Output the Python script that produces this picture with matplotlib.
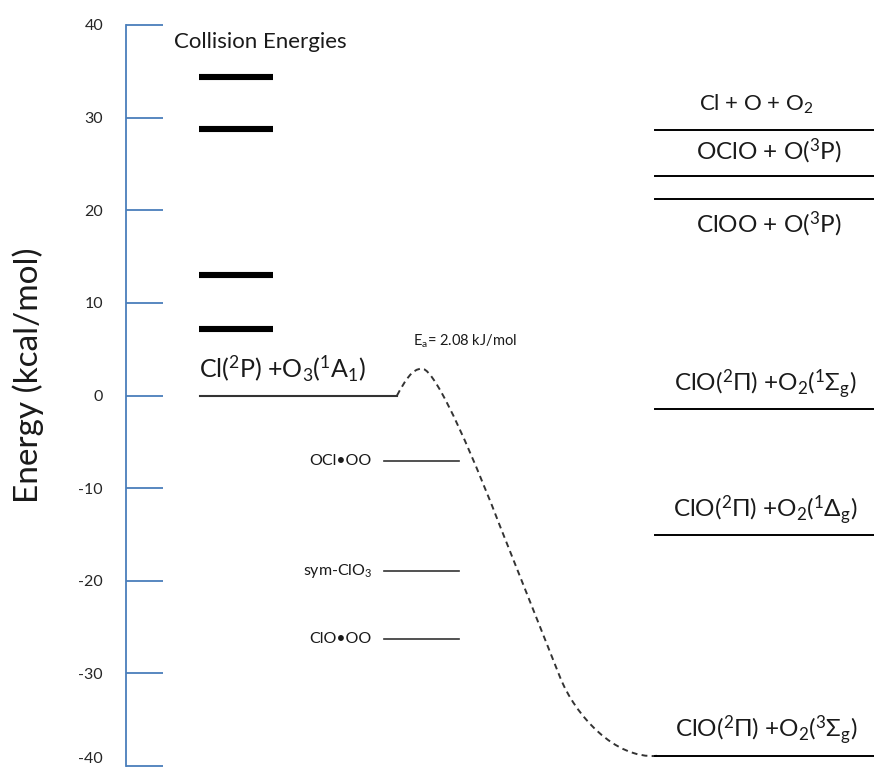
import matplotlib
matplotlib.use("Agg")
import matplotlib.pyplot as plt
from matplotlib.path import Path
from matplotlib.patches import PathPatch

plt.rcParams['font.family'] = ['Lato', 'DejaVu Sans']
plt.rcParams['mathtext.default'] = 'regular'
plt.rcParams['axes.unicode_minus'] = False

# =========================
# Data (kcal/mol)
# =========================

collision_energies = [34.4, 28.8, 13.0, 7.2]

reactant_label = "Cl($^2$P) +O$_3$($^1$A$_1$)"
reactant_energy = 0.0

intermediate_labels = ["OCl•OO", "sym-ClO$_3$", "ClO•OO"]
intermediate_energies = [-7.1, -18.9, -26.3]

product_labels = [
    "Cl + O + O$_2$",
    "OClO + O($^3$P)",
    "ClOO + O($^3$P)",
    "ClO($^2$Π) +O$_2$($^1$Σ$_g$)",
    "ClO($^2$Π) +O$_2$($^1$Δ$_g$)",
    "ClO($^2$Π) +O$_2$($^3$Σ$_g$)",
]
product_energies = [28.7, 23.7, 21.2, -1.5, -15.1, -38.9]
product_label_side = [1, 1, -1, 1, 1, 1]
product_label_x = [756, 769, 769, 765, 765, 766]
product_label_size = [16, 17.5, 17.5, 17.5, 17.5, 17.5]

# reaction path sketch: reaction coordinate and energy of bezier nodes
path_x = [397, 405, 412, 422, 437, 480, 500, 560, 575, 615, 657]
path_e = [0.0, 1.6, 2.9, 2.9, 2.9, -8.5, -14.1, -30.4, -34.5, -39.3, -38.9]
path_codes = [Path.MOVETO, Path.CURVE4, Path.CURVE4, Path.CURVE4,
              Path.CURVE4, Path.CURVE4, Path.CURVE4, Path.LINETO,
              Path.CURVE4, Path.CURVE4, Path.CURVE4]

barrier_label = "E$_a$= 2.08 kJ/mol"

yticks = [40, 30, 20, 10, 0, -10, -20, -30, -40]

# =========================
# Figure
# =========================

fig = plt.figure(figsize=(8.74, 7.68), dpi=100)
ax = fig.add_axes([126 / 874, 2 / 768, 748 / 874, 741 / 768])
ax.set_xlim(126, 874)
ax.set_ylim(-40, 40)

blue = '#4A7EBB'
for side in ['top', 'right', 'bottom']:
    ax.spines[side].set_visible(False)
ax.spines['left'].set_color(blue)
ax.spines['left'].set_linewidth(1.3)
ax.set_xticks([])
ax.set_yticks(yticks)
ax.tick_params(axis='y', direction='in', length=26.6, width=1.3,
               color=blue, pad=16.5, labelsize=11.5, labelcolor='#262626')
# keep the lowest label inside the picture
ax.get_yticklabels()[-1].set_va('bottom')

fig.text(28 / 874, 1 - 375 / 768, "Energy (kcal/mol)", rotation=90,
         ha='center', va='center', fontsize=24, color='#1a1a1a')

# =========================
# Collision energies
# =========================

for e in collision_energies:
    ax.plot([199, 273], [e, e], color='black', lw=4.4,
            solid_capstyle='butt')
ax.text(260, 38.2, "Collision Energies", ha='center', va='center',
        fontsize=16, color='#1a1a1a')

# =========================
# Reactants and intermediates
# =========================

ax.plot([200, 397], [reactant_energy] * 2, color='#333333', lw=1.5)
ax.annotate(reactant_label, (283, reactant_energy), xytext=(0, 19),
            textcoords='offset points', ha='center', va='center',
            fontsize=18, color='#1a1a1a')

for lab, e in zip(intermediate_labels, intermediate_energies):
    ax.plot([384, 459], [e, e], color='#333333', lw=1.2)
    ax.text(372, e, lab, ha='right', va='center', fontsize=11.5,
            color='#1a1a1a')

# =========================
# Products
# =========================

for lab, e, s, lx, fs in zip(product_labels, product_energies,
                             product_label_side, product_label_x,
                             product_label_size):
    ax.plot([655, 874], [e, e], color='black', lw=1.4, clip_on=False)
    ax.annotate(lab, (lx, e), xytext=(0, 18 * s),
                textcoords='offset points', ha='center', va='center',
                fontsize=fs, color='#1a1a1a')

# =========================
# Reaction path
# =========================

path = Path(list(zip(path_x, path_e)), path_codes)
ax.add_patch(PathPatch(path, fill=False, edgecolor='#333333', lw=1.4,
                       linestyle=(0, (3, 2.2))))
ax.text(465, 5.8, barrier_label, ha='center', va='center', fontsize=10.5,
        color='#1a1a1a')

fig.savefig("out.png", dpi=100)
